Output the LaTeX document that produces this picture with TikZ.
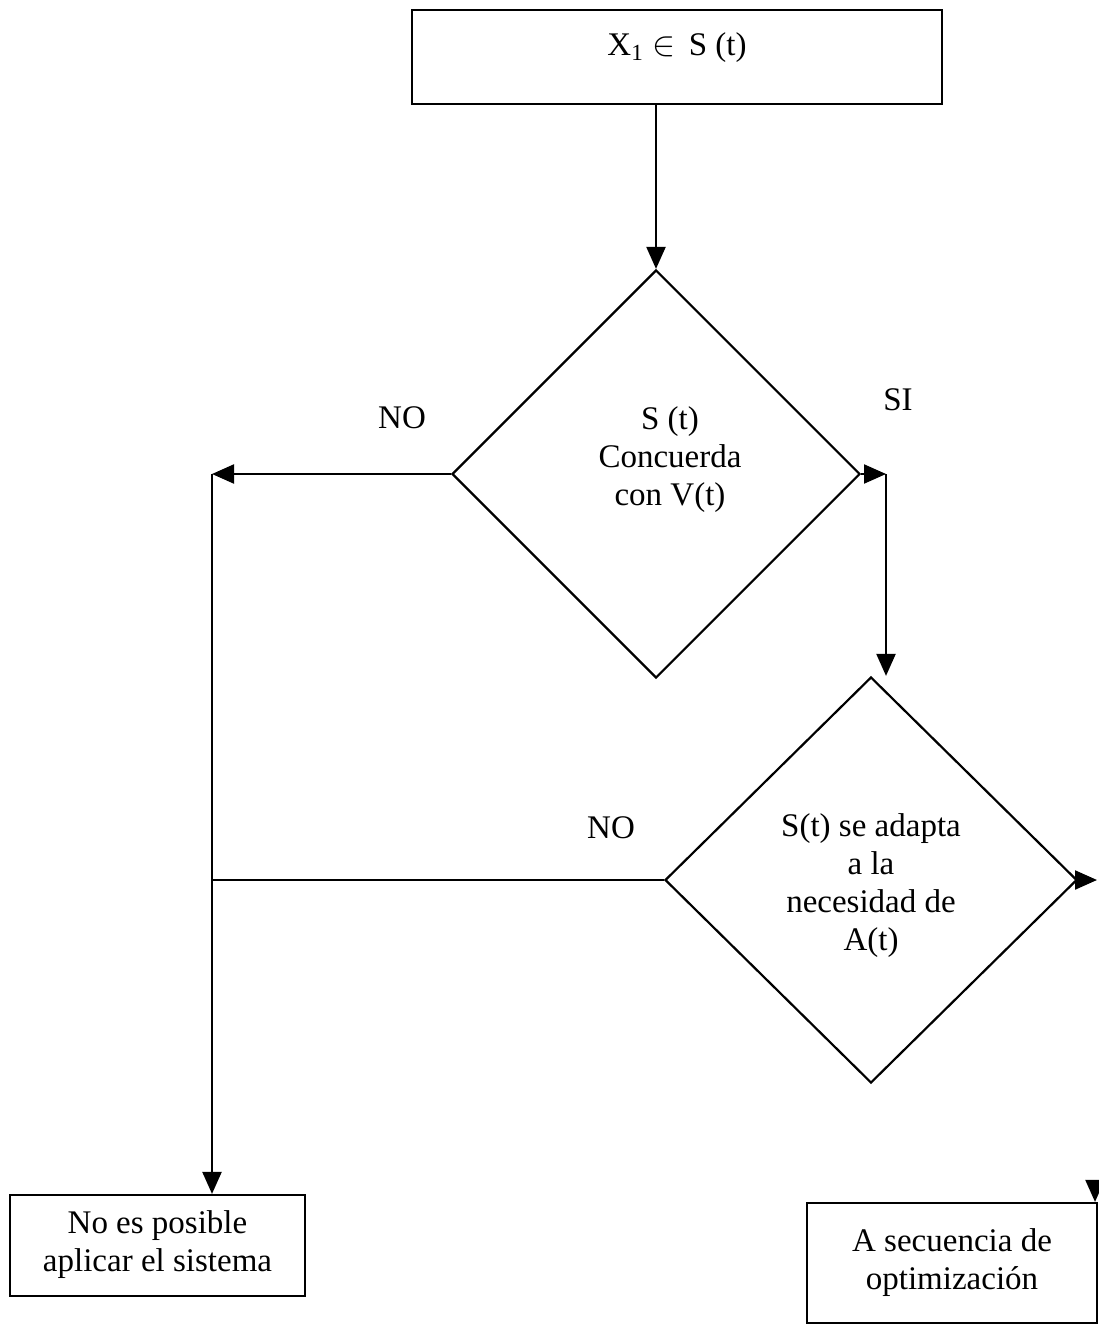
\documentclass[tikz,border=0pt]{standalone}
\usepackage{fontspec}
\setmainfont{Liberation Serif}
\usetikzlibrary{shapes.geometric,arrows.meta}
\begin{document}
\begin{tikzpicture}[x=0.5pt,y=-0.5pt,
  every node/.style={font=\fontsize{16.5}{19}\selectfont},
  box/.style={draw,line width=1.1pt,rectangle,inner sep=0pt,align=center},
  dia/.style={draw,line width=1.1pt,diamond,aspect=1,inner sep=0pt,align=center},
  lab/.style={inner sep=1pt},
  conn/.style={line width=1.1pt},
  arr/.style={line width=1.1pt,-{Triangle[length=11pt,width=9.5pt]}}]
\useasboundingbox (0,0) rectangle (1098,1326);
% boxes
\node[box,minimum width=265pt,minimum height=47pt] (top) at (677,57) {X\textsubscript{1} $\in$\, S (t)\\[-12pt] \strut};
\node[dia,minimum width=204pt,minimum height=204pt] (d1) at (656,474) {};
\node (d1t) at (670,460) [align=center] {S (t)\\Concuerda\\con V(t)};
\node[dia,minimum width=206pt,minimum height=203pt] (d2) at (871,880) {};
\node (d2t) at (871,886) [align=center] {S(t) se adapta\\a la\\necesidad de\\A(t)};
\node[box,minimum width=147.5pt,minimum height=50.5pt,text depth=4pt] (b1) at (157.5,1245.5) {No es posible\\aplicar el sistema};
\node[box,minimum width=145pt,minimum height=60pt] (b2) at (952,1263) {A secuencia de\\optimización};
% labels
\node[lab] (no1) at (402,418) {NO};
\node[lab] (si) at (898,400) {SI};
\node[lab] (no2) at (611,828) {NO};
% coordinates
\coordinate (L1) at (212,474);
\coordinate (R1) at (886,474);
\coordinate (R2) at (1097,880);
\coordinate (R3) at (1095,1180);
% connectors
\draw[arr] (top.south -| d1.north) -- (d1.north);
\draw[arr] (d1.west) -- (L1);
\draw[arr] (d1.east) -- (R1);
\draw[arr] (R1) -- (R1 |- d2.north);
\draw[conn] (d2.west) -- (d2.west -| L1);
\draw[conn] (L1) -- (L1 |- d2.west);
\draw[arr] (d2.west -| L1) -- (L1 |- b1.north);
\draw[arr] (d2.east) -- (R2);
\draw[arr] (R3) -- (R3 |- b2.north);
\end{tikzpicture}
\end{document}
